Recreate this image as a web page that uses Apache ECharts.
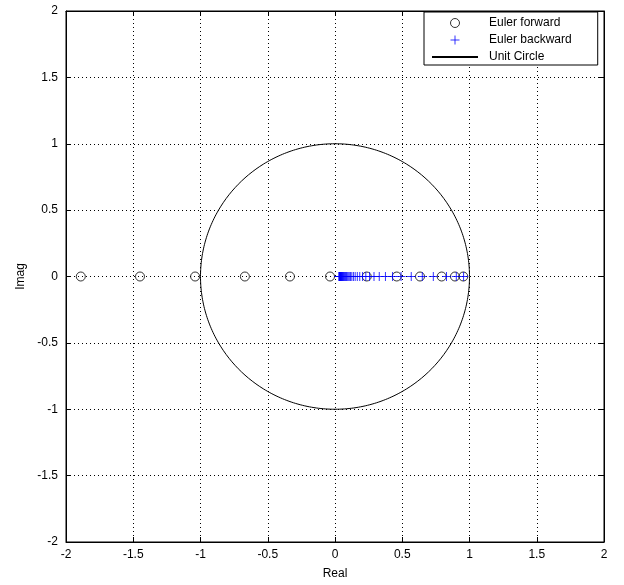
<!DOCTYPE html>
<html><head><meta charset="utf-8">
<script src="https://cdn.jsdelivr.net/npm/echarts@6/dist/echarts.min.js"></script>
<style>html,body{margin:0;padding:0;background:#fff}#c{width:624px;height:585px}</style>
</head><body><div id="c"></div>
<script>
// Euler forward poles (real parts, imag = 0)
const forwardReal = [-1.89, -1.45, -1.04, -0.67, -0.335, -0.037, 0.236, 0.459, 0.632, 0.793, 0.892, 0.954];
// Euler backward poles (real parts, imag = 0)
const backwardReal = [0.956, 0.902, 0.829, 0.731, 0.649, 0.567, 0.491, 0.428, 0.375, 0.329, 0.290, 0.257,
  0.229, 0.205, 0.184, 0.166, 0.150, 0.137, 0.125, 0.115, 0.106, 0.098, 0.091, 0.085, 0.079, 0.074,
  0.069, 0.065, 0.061, 0.057, 0.054, 0.051, 0.048, 0.046, 0.043, 0.041, 0.039, 0.037, 0.035, 0.034, 0.032, 0.031, 0.030];
const tickValues = [-2, -1.5, -1, -0.5, 0, 0.5, 1, 1.5, 2];
const seriesNames = ['Euler forward', 'Euler backward', 'Unit Circle'];

const circlePts = [];
for (let i = 0; i <= 360; i++) {
  const t = i * Math.PI / 180;
  circlePts.push([Math.cos(t), Math.sin(t)]);
}
const fmt = v => String(v);
const font = 'Liberation Sans, Arial, sans-serif';
const plusPath = 'path://M0,-1L0,1M-1,0L1,0';
const axisCommon = {
  min: tickValues[0], max: tickValues[tickValues.length - 1], interval: 0.5,
  axisLine: {show: true, onZero: false, lineStyle: {color: '#000', width: 1}},
  axisTick: {show: true, inside: true, length: 5, lineStyle: {color: '#000'}},
  splitLine: {show: true, lineStyle: {color: '#000', type: [1, 3], width: 1}},
  axisLabel: {color: '#000', fontFamily: font, fontSize: 12, formatter: fmt},
  nameTextStyle: {color: '#000', fontFamily: font, fontSize: 12}
};
const chart = echarts.init(document.getElementById('c'), null, {renderer: 'canvas'});
chart.setOption({
  animation: false,
  backgroundColor: '#fff',
  grid: {left: 66, right: 20, top: 11, bottom: 37, show: true, borderColor: '#000', borderWidth: 1},
  xAxis: [Object.assign({}, axisCommon, {type: 'value', position: 'bottom', name: 'Real', nameLocation: 'middle', nameGap: 26,
      axisLabel: Object.assign({}, axisCommon.axisLabel, {margin: 7})}),
    Object.assign({}, axisCommon, {type: 'value', position: 'top', axisLabel: {show: false}, splitLine: {show: false}})],
  yAxis: [Object.assign({}, axisCommon, {type: 'value', position: 'left', name: 'Imag', nameLocation: 'middle', nameGap: 38,
      axisLabel: Object.assign({}, axisCommon.axisLabel, {margin: 8})}),
    Object.assign({}, axisCommon, {type: 'value', position: 'right', axisLabel: {show: false}, splitLine: {show: false}})],
  legend: {
    left: 424, top: 12, orient: 'vertical',
    backgroundColor: '#fff', borderColor: '#000', borderWidth: 1,
    padding: [5, 26, 2, 7], itemGap: 5, itemWidth: 46, itemHeight: 9,
    textStyle: {color: '#000', fontFamily: font, fontSize: 12, padding: [0, 0, 0, 6]},
    data: [
      {name: seriesNames[0], icon: 'circle', itemStyle: {color: 'rgba(0,0,0,0)', borderColor: '#000', borderWidth: 1}},
      {name: seriesNames[1], icon: plusPath, itemStyle: {color: 'rgba(0,0,0,0)', borderColor: '#0000ff', borderWidth: 1}},
      {name: seriesNames[2], itemStyle: {color: 'rgba(0,0,0,0)', borderColor: 'rgba(0,0,0,0)', borderWidth: 0}}
    ]
  },
  series: [
    {name: seriesNames[0], type: 'scatter', symbol: 'circle', symbolSize: 9,
     itemStyle: {color: 'rgba(0,0,0,0)', borderColor: '#000', borderWidth: 1},
     data: forwardReal.map(v => [v, 0]), z: 3},
    {name: seriesNames[1], type: 'scatter', symbol: plusPath, symbolSize: 9,
     itemStyle: {color: 'rgba(0,0,0,0)', borderColor: '#0000ff', borderWidth: 1},
     data: backwardReal.map(v => [v, 0]), z: 4},
    {name: seriesNames[2], type: 'line', showSymbol: false, symbol: 'none',
     lineStyle: {color: '#000', width: 1}, itemStyle: {color: '#000'},
     data: circlePts, z: 2}
  ]
});
</script></body></html>
